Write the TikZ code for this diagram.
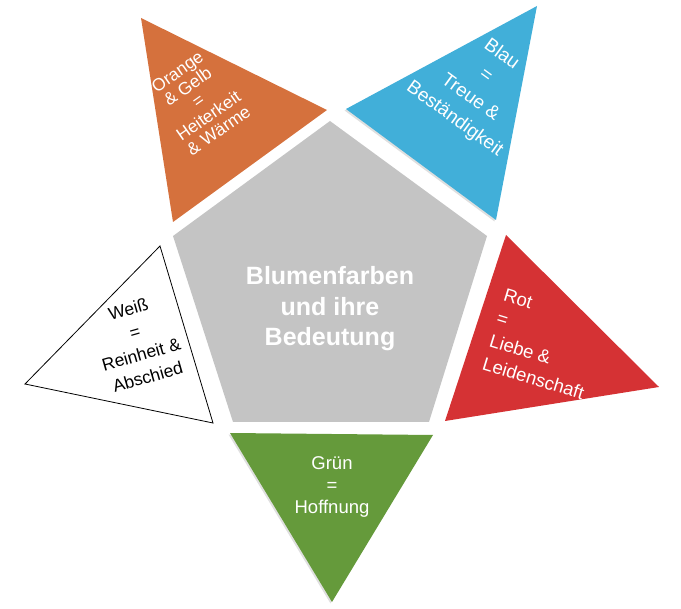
\documentclass[tikz,border=0pt]{standalone}
\usepackage{fontspec}
\setmainfont{Liberation Sans}
\usepackage{tikz}
\usetikzlibrary{shadows}

\definecolor{centregray}{HTML}{C4C4C4}
\definecolor{orangeleaf}{HTML}{D5713D}
\definecolor{blueleaf}{HTML}{41AFD9}
\definecolor{redleaf}{HTML}{D53234}
\definecolor{greenleaf}{HTML}{659A3B}

\begin{document}
\begin{tikzpicture}[x=1pt,y=-1pt,
  leaf/.style={text=white,align=center,inner sep=0pt},
  soft/.style={drop shadow={shadow xshift=-1.5pt,shadow yshift=-1.5pt,opacity=0.25}},
  title/.style={text=white,align=center,font=\fontsize{25}{30.5}\selectfont\bfseries}]
\useasboundingbox (0,0) rectangle (681,609);
% centre
\fill[centregray] (330,121) -- (487,236) -- (429,422) -- (233,422) -- (173,236) -- cycle;
\node[title] (centre) at (330,309) {Blumenfarben\\und ihre\\Bedeutung};
% the five leaves
\fill[orangeleaf] (141,18) -- (327,110) -- (173,222) -- cycle;
\node[leaf,rotate=35,font=\fontsize{17.5}{18}\selectfont] (orange) at (198,101)
  {Orange\\\& Gelb\\=\\Heiterkeit\\\& Wärme};
\fill[blueleaf,soft] (537,6) -- (346,109) -- (496,220) -- cycle;
\node[leaf,rotate=-36,font=\fontsize{19}{26.5}\selectfont] (blue) at (478,87)
  {Blau\\=\\Treue \&\\Beständigkeit};
\draw[fill=white,line width=0.8pt] (160,246) -- (25,384) -- (213,423) -- cycle;
\node[leaf,text=black,rotate=16,font=\fontsize{17.5}{23.5}\selectfont] (white) at (138,343)
  {Weiß\\=\\Reinheit \&\\Abschied};
\fill[redleaf] (506,235) -- (659,387) -- (445,421) -- cycle;
\node[leaf,align=left,rotate=-17,font=\fontsize{18.5}{24}\selectfont] (red) at (544,344)
  {Rot\\=\\Liebe \&\\Leidenschaft};
\fill[greenleaf,soft] (230,433) -- (433,435) -- (332,602) -- cycle;
\node[leaf,font=\fontsize{18.5}{22}\selectfont] (green) at (332,487)
  {Grün\\=\\Hoffnung};
\end{tikzpicture}
\end{document}
